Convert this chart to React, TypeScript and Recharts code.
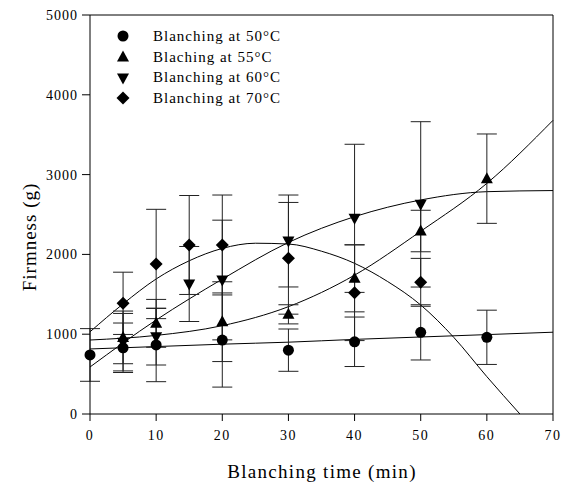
import React from "react";
import {
  ComposedChart,
  Line,
  Scatter,
  ErrorBar,
  XAxis,
  YAxis,
  ReferenceLine,
} from "recharts";

const TIME_TICKS = [0, 10, 20, 30, 40, 50, 60, 70];
const FIRMNESS_TICKS = [0, 1000, 2000, 3000, 4000, 5000];

const SERIES_NAMES = [
  "Blanching at 50°C",
  "Blaching at 55°C",
  "Blanching at 60°C",
  "Blanching at 70°C",
];

// measured means and standard deviations
const time50 = [0, 5, 10, 20, 30, 40, 50, 60];
const mean50 = [740, 830, 865, 927, 800, 905, 1023, 961];
const sd50 = [330, 310, 460, 590, 265, 310, 346, 340];

const time55 = [5, 10, 20, 30, 40, 50, 60];
const mean55 = [960, 1136, 1157, 1249, 1700, 2293, 2949];
const sd55 = [330, 300, 500, 120, 420, 260, 560];

const time60 = [5, 10, 15, 20, 30, 40, 50];
const mean60 = [900, 969, 1629, 1679, 2168, 2452, 2627];
const sd60 = [360, 355, 470, 750, 576, 928, 1036];

const time70 = [5, 10, 15, 20, 30, 40, 50];
const mean70 = [1387, 1880, 2118, 2118, 1951, 1520, 1650];
const sd70 = [390, 685, 620, 626, 700, 600, 300];

// fitted curves
const fitTime = [0, 10, 20, 30, 40, 50, 60, 70];
const fit50 = [815, 845, 875, 900, 935, 965, 995, 1025];
const fit55 = [927, 985, 1107, 1345, 1740, 2290, 2890, 3680];
const fit60 = [589, 1178, 1690, 2150, 2473, 2682, 2786, 2800];

const fitTime70 = [0, 5, 10, 15, 20, 25, 30, 35, 40, 45, 50, 55, 60, 65];
const fit70 = [1030, 1380, 1692, 1920, 2075, 2140, 2130, 2040, 1888, 1660, 1366, 960, 468, 0];

type Kind = "circle" | "up" | "down" | "diamond";
const KINDS: Kind[] = ["circle", "up", "down", "diamond"];

const toPoints = (xs: number[], ys: number[], errs?: number[]) =>
  xs.map((x, i) => ({ x, y: ys[i], err: errs ? errs[i] : 0 }));

function Marker({ kind, cx, cy }: { kind: Kind; cx: number; cy: number }) {
  if (kind === "circle") return <circle cx={cx} cy={cy} r={5.5} fill="#000" />;
  if (kind === "up")
    return <path d={`M${cx},${cy - 6.5}L${cx + 6},${cy + 4.5}L${cx - 6},${cy + 4.5}Z`} fill="#000" />;
  if (kind === "down")
    return <path d={`M${cx},${cy + 6.5}L${cx + 6},${cy - 4.5}L${cx - 6},${cy - 4.5}Z`} fill="#000" />;
  return <path d={`M${cx},${cy - 6.5}L${cx + 6.5},${cy}L${cx},${cy + 6.5}L${cx - 6.5},${cy}Z`} fill="#000" />;
}

const FONT = '"Liberation Serif", "Times New Roman", serif';

export default function App() {
  const measured = [
    toPoints(time50, mean50, sd50),
    toPoints(time55, mean55, sd55),
    toPoints(time60, mean60, sd60),
    toPoints(time70, mean70, sd70),
  ];
  const fits = [
    toPoints(fitTime, fit50),
    toPoints(fitTime, fit55),
    toPoints(fitTime, fit60),
    toPoints(fitTime70, fit70),
  ];

  return (
    <div style={{ position: "absolute", left: 0, top: 0, width: 562, height: 489, background: "#fff", fontFamily: FONT }}>
      <ComposedChart width={562} height={489} margin={{ top: 15, right: 9, bottom: 5, left: 0 }}>
        <XAxis
          type="number"
          dataKey="x"
          domain={[0, 70]}
          ticks={TIME_TICKS}
          height={70}
          stroke="#000"
          tickSize={7}
          tickMargin={9}
          tick={{ fill: "#000", fontSize: 14, fontFamily: FONT, letterSpacing: 1.5 }}
          label={() => (
            <text x={322} y={478} textAnchor="middle" fontSize={19} fontFamily={FONT} letterSpacing={1.3} fill="#000">
              Blanching time (min)
            </text>
          )}
        />
        <YAxis
          type="number"
          dataKey="y"
          domain={[0, 5000]}
          ticks={FIRMNESS_TICKS}
          width={90}
          stroke="#000"
          tickSize={8}
          tickMargin={4}
          tick={{ fill: "#000", fontSize: 14, fontFamily: FONT, letterSpacing: 1 }}
          label={() => (
            <text
              x={36}
              y={237}
              transform="rotate(-90 36 237)"
              textAnchor="middle"
              fontSize={19}
              fontFamily={FONT}
              letterSpacing={1}
              fill="#000"
            >
              Firmness (g)
            </text>
          )}
        />
        <ReferenceLine y={5000} stroke="#000" />
        <ReferenceLine x={70} stroke="#000" />
        {fits.map((data, i) => (
          <Line
            key={`fit-${i}`}
            data={data}
            dataKey="y"
            type="monotone"
            stroke="#000"
            strokeWidth={1}
            dot={false}
            activeDot={false}
            isAnimationActive={false}
          />
        ))}
        {measured.map((data, i) => (
          <Scatter
            key={`pts-${i}`}
            data={data}
            dataKey="y"
            isAnimationActive={false}
            shape={(p: any) => <Marker kind={KINDS[i]} cx={p.cx} cy={p.cy} />}
          >
            <ErrorBar dataKey="err" direction="y" width={10} stroke="#222" strokeWidth={1} />
          </Scatter>
        ))}
      </ComposedChart>
      <div style={{ position: "absolute", left: 110, top: 26, fontSize: 15, letterSpacing: 1, color: "#000" }}>
        {SERIES_NAMES.map((name, i) => (
          <div key={name} style={{ display: "flex", alignItems: "center", height: 20.7 }}>
            <svg width={26} height={20} style={{ marginRight: 17 }}>
              <Marker kind={KINDS[i]} cx={13} cy={10} />
            </svg>
            <span>{name}</span>
          </div>
        ))}
      </div>
    </div>
  );
}
